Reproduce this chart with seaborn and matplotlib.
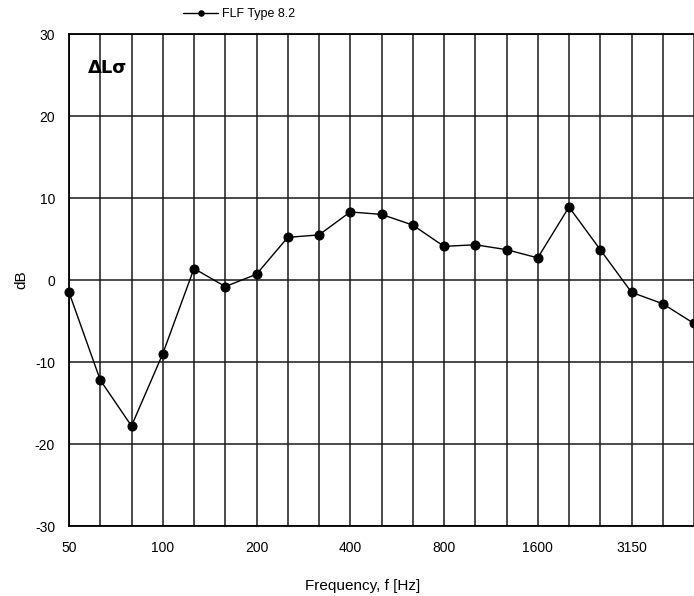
import matplotlib
matplotlib.use("Agg")
import matplotlib.pyplot as plt
import pandas as pd
import seaborn as sns

freqs = ["50", "63", "80", "100", "125", "160", "200", "250", "315", "400", "500",
         "630", "800", "1000", "1250", "1600", "2000", "2500", "3150", "4000", "5000"]
delta_l = [-1.5, -12.2, -17.8, -9.0, 1.4, -0.8, 0.7, 5.2, 5.5, 8.3, 8.0,
           6.7, 4.1, 4.3, 3.7, 2.7, 8.9, 3.7, -1.5, -2.9, -5.3]
shown_labels = ["50", "100", "200", "400", "800", "1600", "3150"]

df = pd.DataFrame({"idx": range(len(freqs)), "freq": freqs, "dL": delta_l})

sns.set_style("white")
plt.rcParams['font.family'] = ['Liberation Sans', 'DejaVu Sans']
plt.rcParams['axes.unicode_minus'] = False
plt.rcParams['text.color'] = 'black'
plt.rcParams['axes.labelcolor'] = 'black'
plt.rcParams['xtick.color'] = 'black'
plt.rcParams['ytick.color'] = 'black'

fig = plt.figure(figsize=(6.94, 5.96), dpi=100)
ax = fig.add_axes([69 / 694, 70 / 596, 1 - 69 / 694, (526 - 34) / 596])

sns.lineplot(data=df, x="idx", y="dL", ax=ax, color="black", marker="o",
             markersize=6.5, linewidth=1, markeredgecolor="black",
             label="FLF Type 8.2", sort=False, clip_on=False, zorder=5)

ax.set_xlim(0, 20)
ax.set_ylim(-30, 30)
ax.set_xticks(range(len(freqs)))
ax.set_xticklabels([f if f in shown_labels else "" for f in freqs], fontsize=10)
ax.set_yticks(range(-30, 31, 10))
ax.tick_params(axis="y", labelsize=10, length=0, pad=10)
ax.tick_params(axis="x", length=0, pad=11)
ax.grid(True, color="#1a1a1a", linewidth=1.1)
for side in ["top", "left", "bottom"]:
    ax.spines[side].set_color("black")
    ax.spines[side].set_linewidth(1.3)
ax.spines["right"].set_visible(False)

ax.set_xlabel("Frequency, f [Hz]", fontsize=11)
ax.xaxis.set_label_coords((363 - 69) / 625, -0.108)
ax.set_ylabel("dB", fontsize=11)
ax.yaxis.set_label_coords(-0.065, 0.5)

ax.text(0.6, 25.8, "\u0394L\u03c3", fontsize=13, fontweight="bold", ha="left", va="center",
        family=["DejaVu Sans"])

ax.get_legend().remove()
fig.legend(loc="center left", bbox_to_anchor=(172 / 694, 1 - 14 / 596), frameon=False,
           fontsize=9, handlelength=2.8, handletextpad=0.3, markerscale=0.6)

fig.savefig("out.png", dpi=100)
